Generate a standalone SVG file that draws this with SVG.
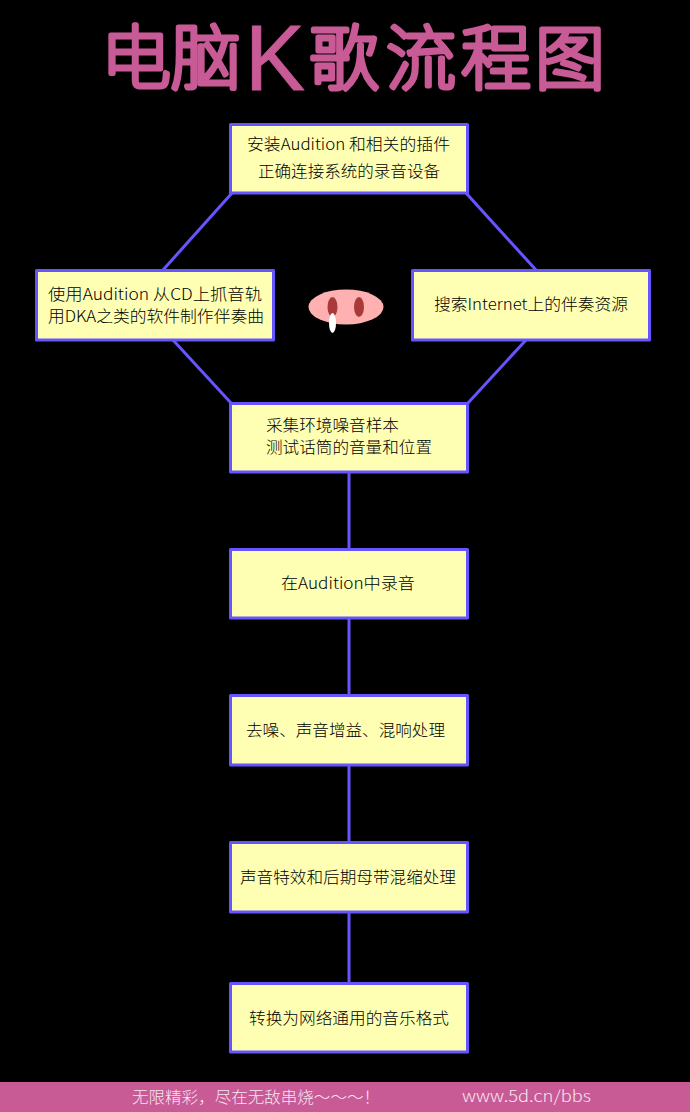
<svg xmlns="http://www.w3.org/2000/svg" width="690" height="1112" viewBox="0 0 690 1112">
<style>
.box{fill:#ffffb3;stroke:#6655ff;stroke-width:3;stroke-linejoin:round}
.lbl{font-family:"Noto Sans CJK SC","Open Sans",sans-serif;font-size:15.500px;font-weight:300;fill:#000}
.ttl{font-family:"Noto Sans CJK SC","Liberation Sans",sans-serif;font-size:70px;font-weight:100;fill:#c85a96;stroke:#c85a96;stroke-width:5;stroke-linejoin:round;stroke-linecap:round}
.ttk{font-family:"Liberation Sans",sans-serif;font-size:92px;fill:#c85a96;stroke:#c85a96;stroke-width:1;stroke-linejoin:round}
.ftr{font-family:"Noto Sans CJK SC","Liberation Sans",sans-serif;font-size:16px;font-weight:300;fill:#f5e6f0}
.con{fill:none;stroke:#6655ff;stroke-width:3}
</style>
<rect width="690" height="1112" fill="#000"/>
<g id="title">
<text class="ttl" x="101" y="84">电脑</text>
<text class="ttk" x="245" y="90" textLength="60" lengthAdjust="spacingAndGlyphs">K</text>
<text class="ttl" x="309 386 461 535" y="84">歌流程图</text>
</g>
<g id="connectors">
<path class="con" d="M232 193L163 270M466 193L536 270M173 340L231 403M526 340L468 403M349 472V549M349 618V695M349 765V842M349 912V983"/>
</g>
<g id="n1"><rect class="box" x="230.500" y="124.500" width="237" height="68.500"/>
<text class="lbl" x="247" y="150" textLength="203" lengthAdjust="spacingAndGlyphs">安装Audition 和相关的插件</text>
<text class="lbl" x="258" y="177" textLength="182" lengthAdjust="spacingAndGlyphs">正确连接系统的录音设备</text></g>
<g id="n2"><rect class="box" x="36.500" y="270.500" width="237" height="69.500"/>
<text class="lbl" x="48" y="300" textLength="214" lengthAdjust="spacingAndGlyphs">使用Audition 从CD上抓音轨</text>
<text class="lbl" x="48" y="322" textLength="216" lengthAdjust="spacingAndGlyphs">用DKA之类的软件制作伴奏曲</text></g>
<g id="n3"><rect class="box" x="412.500" y="270.500" width="237" height="69.500"/>
<text class="lbl" x="434" y="310" textLength="194" lengthAdjust="spacingAndGlyphs">搜索Internet上的伴奏资源</text></g>
<g id="nose">
<ellipse cx="346" cy="307" rx="37.500" ry="17.500" fill="#ffb0b0"/>
<ellipse cx="332.500" cy="307" rx="5" ry="10" fill="#a83a3a"/>
<ellipse cx="359" cy="307" rx="5" ry="10" fill="#a83a3a"/>
<ellipse cx="332.500" cy="323" rx="3.500" ry="10" fill="#fff"/>
</g>
<g id="n4"><rect class="box" x="230.500" y="403.500" width="237" height="68.500"/>
<text class="lbl" x="266" y="431" textLength="133" lengthAdjust="spacingAndGlyphs">采集环境噪音样本</text>
<text class="lbl" x="266" y="453" textLength="166" lengthAdjust="spacingAndGlyphs">测试话筒的音量和位置</text></g>
<g id="n5"><rect class="box" x="230.500" y="549.500" width="237" height="68.500"/>
<text class="lbl" x="281" y="589" textLength="134" lengthAdjust="spacingAndGlyphs">在Audition中录音</text></g>
<g id="n6"><rect class="box" x="230.500" y="695.500" width="237" height="69.500"/>
<text class="lbl" x="246" y="736" textLength="199" lengthAdjust="spacingAndGlyphs">去噪、声音增益、混响处理</text></g>
<g id="n7"><rect class="box" x="230.500" y="842.500" width="237" height="69.500"/>
<text class="lbl" x="240" y="883" textLength="216" lengthAdjust="spacingAndGlyphs">声音特效和后期母带混缩处理</text></g>
<g id="n8"><rect class="box" x="230.500" y="983.500" width="237" height="68.500"/>
<text class="lbl" x="249" y="1024" textLength="200" lengthAdjust="spacingAndGlyphs">转换为网络通用的音乐格式</text></g>
<g id="footer">
<rect x="0" y="1082" width="690" height="30" fill="#c85a96"/>
<text class="ftr" x="132" y="1103" textLength="248" lengthAdjust="spacingAndGlyphs">无限精彩，尽在无敌串烧～～～！</text>
<text class="ftr" x="462" y="1102" textLength="129" lengthAdjust="spacingAndGlyphs">www.5d.cn/bbs</text>
</g>
</svg>
